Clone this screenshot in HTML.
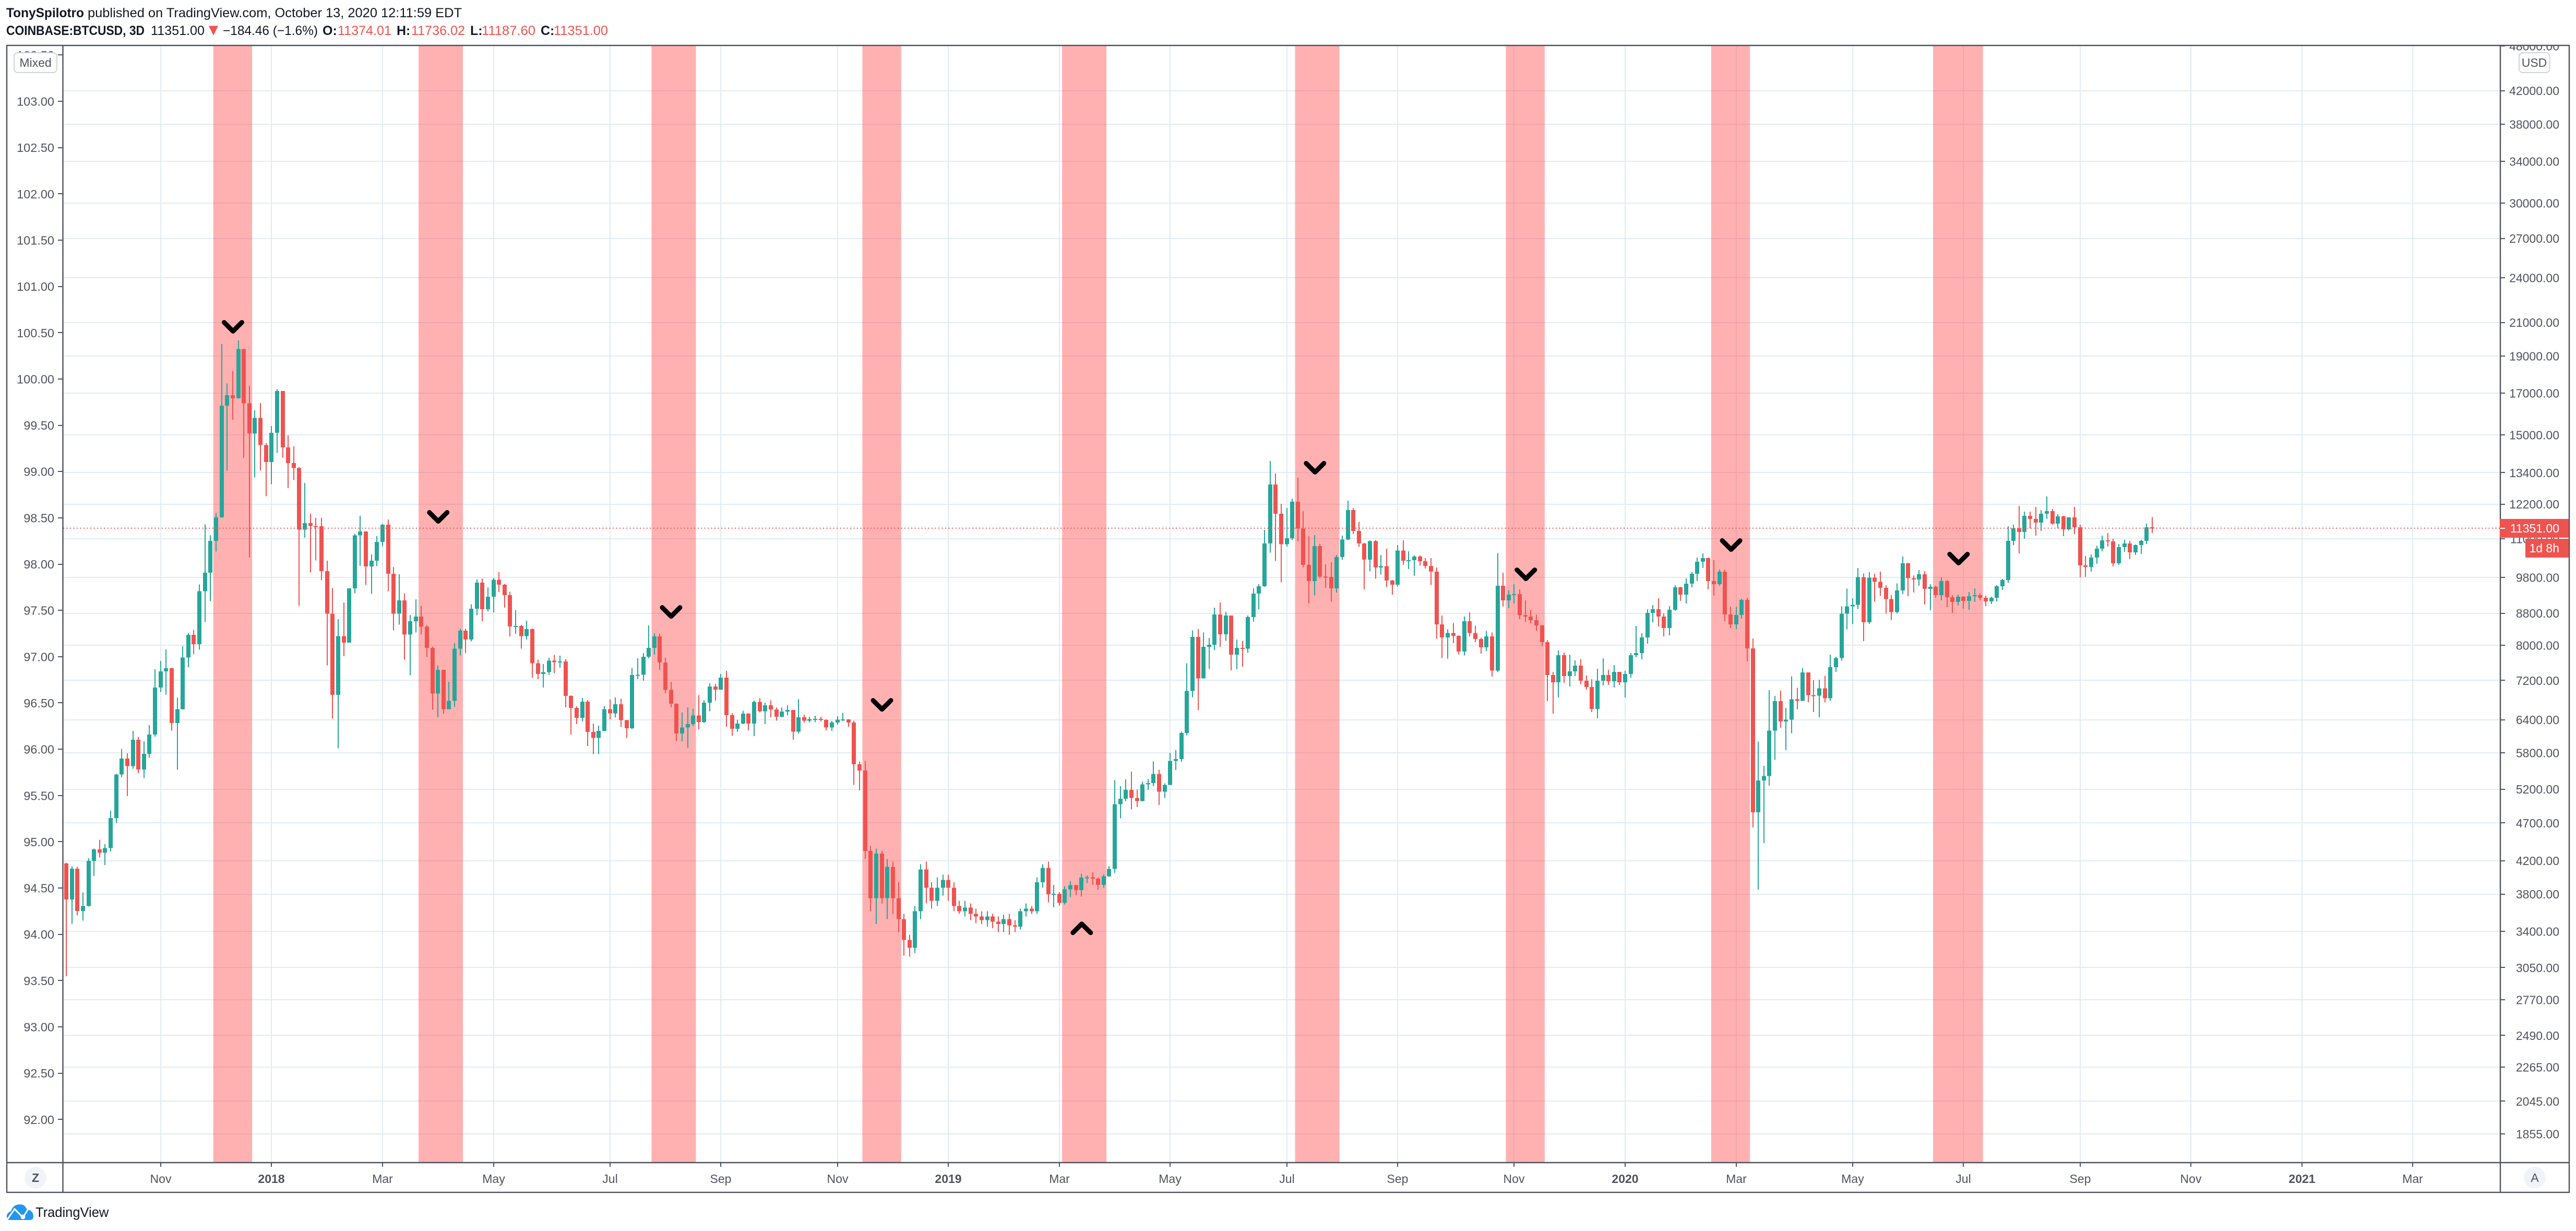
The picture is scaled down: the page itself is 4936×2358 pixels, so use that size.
<!DOCTYPE html>
<html lang="en">
<head>
<meta charset="utf-8">
<title>COINBASE:BTCUSD 3D chart</title>
<style>
html,body{margin:0;padding:0;background:#fff;width:4936px;height:2358px;overflow:hidden}
svg{display:block}
text{font-family:"Liberation Sans",sans-serif}
</style>
</head>
<body>
<svg id="chart" xmlns="http://www.w3.org/2000/svg" width="4936" height="2358" viewBox="0 0 4936 2358">
  <defs>
    <clipPath id="plot-clip"><rect x="121" y="88" width="4670" height="2139"></rect></clipPath>
    <clipPath id="left-clip"><rect x="14" y="88" width="107" height="2139"></rect></clipPath>
    <clipPath id="right-clip"><rect x="4791" y="88" width="132" height="2139"></rect></clipPath>
  </defs>
  <rect x="0" y="0" width="4936" height="2358" fill="#ffffff"></rect>

  <g font-size="25" fill="#131722">
    <text x="12" y="33" font-weight="700" textLength="149" lengthAdjust="spacingAndGlyphs">TonySpilotro</text>
    <text x="168" y="33" textLength="717" lengthAdjust="spacingAndGlyphs">published on TradingView.com, October 13, 2020 12:11:59 EDT</text>
  </g>
  <g font-size="25" fill="#131722">
    <text x="12" y="67" font-weight="700" textLength="265" lengthAdjust="spacingAndGlyphs">COINBASE:BTCUSD, 3D</text>
    <text x="289" y="67" textLength="103" lengthAdjust="spacingAndGlyphs">11351.00</text>
    <polygon points="400,49.5 418,49.5 409,68" fill="#ef5350"></polygon>
    <text x="427" y="67" textLength="182" lengthAdjust="spacingAndGlyphs">−184.46 (−1.6%)</text>
    <text x="618" y="67" font-weight="700">O:</text>
    <text x="647" y="67" fill="#ef5350" textLength="103" lengthAdjust="spacingAndGlyphs">11374.01</text>
    <text x="760" y="67" font-weight="700">H:</text>
    <text x="788" y="67" fill="#ef5350" textLength="103" lengthAdjust="spacingAndGlyphs">11736.02</text>
    <text x="901" y="67" font-weight="700">L:</text>
    <text x="923" y="67" fill="#ef5350" textLength="103" lengthAdjust="spacingAndGlyphs">11187.60</text>
    <text x="1036" y="67" font-weight="700">C:</text>
    <text x="1061" y="67" fill="#ef5350" textLength="104" lengthAdjust="spacingAndGlyphs">11351.00</text>
  </g>

  <g id="grid" clip-path="url(#plot-clip)"></g>
  <g id="bands" clip-path="url(#plot-clip)"></g>
  <g id="candles" clip-path="url(#plot-clip)"></g>
  <g id="last-line" clip-path="url(#plot-clip)"></g>
  <g id="markers" clip-path="url(#plot-clip)"></g>
  <g id="left-axis" clip-path="url(#left-clip)"></g>
  <g id="right-axis" clip-path="url(#right-clip)"></g>
  <g id="time-axis"></g>

  <g stroke="#50535e" stroke-width="2.4" fill="none">
    <rect x="13" y="87" width="4910" height="2197"></rect>
    <line x1="120.5" y1="87" x2="120.5" y2="2284"></line>
    <line x1="4791" y1="87" x2="4791" y2="2284"></line>
    <line x1="13" y1="2227" x2="4923" y2="2227"></line>
  </g>

  <g>
    <rect x="27" y="101" width="82" height="38" rx="7" fill="#ffffff" stroke="#d1d4dc" stroke-width="2"></rect>
    <text x="68" y="128" font-size="23" fill="#50535e" text-anchor="middle">Mixed</text>
  </g>
  <g>
    <rect x="4827" y="101" width="58.500" height="38" rx="7" fill="#ffffff" stroke="#d1d4dc" stroke-width="2"></rect>
    <text x="4856" y="128" font-size="23" fill="#50535e" text-anchor="middle">USD</text>
  </g>

  <g id="price-tags"></g>

  <g>
    <circle cx="68" cy="2256" r="21" fill="#f0f3fa"></circle>
    <text x="68" y="2264" font-size="23" font-weight="700" fill="#50535e" text-anchor="middle">Z</text>
  </g>
  <g>
    <circle cx="4857" cy="2256" r="21" fill="#f0f3fa"></circle>
    <text x="4857" y="2264" font-size="23" fill="#50535e" text-anchor="middle">A</text>
  </g>

  <g>
    <path d="M18 2337 Q13 2337 13 2330 Q13 2323 21 2320 Q25 2307 38 2307 Q48 2307 51 2316 Q64 2319 64 2330 Q64 2337 57 2337 Z" fill="#2196f3"></path>
    <polyline points="14,2336 28,2316 44,2332 54,2316" fill="none" stroke="#ffffff" stroke-width="3"></polyline>
    <circle cx="44" cy="2331" r="4.500" fill="#ffffff"></circle>
    <text x="68" y="2331" font-size="25.500" fill="#131722">TradingView</text>
  </g>
</svg>

<script>
// ---- candle data (USD), one value per 3-day bar ----
const firstOpen = 4165;
const closes = [
3740,4099,3614,3667,4198,4342,4300,4362,4770,5435,5697,5572,6029,5514,5779,6122,7049,7394,7464,6339,6607,7712,
8251,8025,9397,9935,10925,11727,16381,16891,16738,19392,
16487,15060,15790,14555,13830,15100,17104,14450,13795,13584,
11304,11528,11430,11421,9979,8787,6897,8221,8062,9482,
11113,11241,10124,10298,10896,11467,9907,8787,9148,8259,
8591,8715,8454,7933,6922,7431,6607,6774,7918,8355,
8135,8922,9645,8906,9246,9725,9584,9288,8461,8476,
8221,8393,7578,7338,7378,7640,7604,7618,6872,6630,
6437,6756,6172,6062,6193,6607,6525,6703,6390,6237,
7317,7324,7725,7936,8211,7596,6996,6717,6145,6255,
6316,6484,6358,6733,7067,7004,7259,6488,6230,6327,
6516,6327,6753,6566,6682,6602,6457,6559,6589,6178,
6446,6383,6414,6418,6395,6255,6346,6403,6406,6346,
5604,5497,4322,3754,4288,3754,4123,3754,3527,3313,
3237,3611,4091,3873,3725,3873,3965,3873,3668,3611,
3650,3583,3555,3516,3555,3500,3473,3527,3462,3446,
3611,3639,3611,3935,4110,
3799,3804,3700,3855,3902,3844,3991,3996,3980,3905,
4008,4095,4971,5052,5189,5066,5020,5277,5294,5444,
5163,5268,5660,5689,6151,6978,8197,7241,7961,8011,
8767,8265,8739,7774,7936,7918,8699,9331,9540,10847,
12935,11849,10822,11011,12283,11340,10170,9693,10761,9818,
9810,9480,10416,10973,11981,11261,10847,10333,10921,10089,
10128,9702,9586,10621,10299,10315,10432,10283,10136,9968,
8512,8187,8299,8225,7848,8595,8299,8148,7948,8212,
7416,9556,9147,9306,9321,8752,8712,8622,8484,8071,
7319,7157,7763,7292,7396,7524,7191,7057,6609,7191,
7315,7180,7384,7157,7339,7763,7812,8185,8807,8906,
8714,8419,8893,9510,9303,9614,9903,10265,10380,9690,
9599,9968,8768,8511,8754,9161,7922,4853,5338,5407,
6198,6766,6367,6400,6804,6770,7373,6887,6877,7032,
6826,7488,7698,8793,8986,9026,9806,8568,9793,9669,
9497,9183,8832,9423,10220,9778,9736,9888,9466,9525,
9289,9690,9232,9104,9246,9132,9260,9289,9218,9118,
9218,9540,9722,10927,11346,11221,11780,11670,11542,11853,
11944,11507,11761,11311,11724,11382,10155,10107,10396,10677,
10943,10910,10218,10727,10843,10558,10793,10927,11382,11351
];
const highs = [
4175,4128,4122,3818,4228,4355,4471,4411,4874,5444,5868,5788,6189,6083,6000,6299,7441,7633,7898,7475,6838,7981,
8289,8377,9592,11476,11113,11884,19686,17492,18163,19901,
19392,17378,16150,16503,14635,15413,17197,17104,14977,14503,
13633,13000,11853,11706,11706,10299,9491,8646,9091,9482,
11163,11780,11241,10494,11084,11487,11653,10105,9888,9345,
8754,9173,9001,8500,7967,7524,7431,7168,8047,8401,
8401,9042,9734,9766,9508,9785,9952,9610,9389,8884,
8500,8607,8409,7660,7559,7701,7770,7749,7674,6885,
6660,6830,6786,6328,6289,6666,6798,6841,6816,6396,
7475,7689,7810,8484,8290,8275,7712,7170,6724,6546,
6640,6617,6891,6785,7136,7123,7339,7409,6527,6395,
6573,6527,6777,6830,6733,6785,6640,6640,6682,6589,
6805,6497,6457,6476,6457,6414,6376,6465,6535,6414,
6383,5644,5661,4389,4355,4322,4221,4188,3935,3583,
3366,3668,4156,4188,3935,3996,4027,4027,3935,3725,
3725,3696,3639,3611,3611,3583,3555,3572,3583,3516,
3639,3696,3668,3996,4156,
4188,3907,3820,3891,3948,3907,4040,4016,4059,3996,
4034,4130,5343,5246,5355,5482,5195,5318,5362,5652,
5513,5291,5796,5850,6177,7581,8359,8394,8312,8174,
8951,9088,8838,8739,8135,8102,8739,9480,9600,11297,
13874,13366,12212,12058,12400,13205,11943,11084,11118,10838,
10185,10250,10481,11101,12320,12045,11569,10863,10943,10956,
10481,10677,9718,10795,10943,10591,10464,10464,10382,10382,
10089,8739,8385,8544,8240,8712,8824,8471,8180,8351,
8312,10538,9936,9432,9600,9449,9147,8883,8760,8500,
8122,7384,7873,7824,7775,7642,7666,7304,7224,7453,
7690,7431,7536,7384,7407,7812,8471,8289,8906,9018,
9203,8794,8990,9569,9525,9766,9951,10396,10526,10396,
10314,10030,10030,8976,8976,9189,9218,8160,5998,5574,
6991,6872,6981,6630,7290,7043,7466,7373,7203,7214,
7300,7774,7727,8986,9475,9205,10076,9910,9948,9904,
9964,9567,9300,9626,10429,10236,9858,10014,9982,9600,
9555,9797,9722,9289,9303,9260,9375,9480,9345,9275,
9246,9569,9751,11418,11471,12133,11926,11926,12094,11981,
12480,12020,11835,11780,11724,12094,11471,10445,10494,10766,
11101,11187,10998,10827,10960,10927,10810,10960,11507,11736
];
const lows = [
2973,3476,3566,3509,3661,4011,4239,4145,4317,4698,5392,5095,5528,5457,5375,5711,6087,6954,6898,6194,5510,6602,
7490,7785,7890,8576,9124,10588,11717,13486,15693,16725,
14004,10392,13212,13486,12486,12943,14220,14004,12792,13104,
9001,11034,9943,10307,9715,7531,6420,5874,7742,8062,
9338,10141,9575,9329,10133,10750,9397,8363,8506,7660,
7311,8311,8267,7723,6595,6449,6513,6607,6653,7757,
7812,8091,8746,8592,8849,8826,9381,8946,8215,8275,
7918,8135,7258,7226,7047,7325,7357,7477,6640,6122,
6317,6373,5918,5775,5775,6182,6407,6443,6265,6062,
6225,7225,7191,7692,7776,7432,6925,6644,6007,5999,
5886,6278,6218,6339,6566,6777,7000,6267,6102,6170,
6319,6199,6094,6546,6319,6446,6383,6446,6484,6028,
6141,6346,6350,6354,6365,6199,6189,6309,6376,6267,
5269,5182,4221,3611,3473,3696,3527,3583,3392,3162,
3152,3186,3527,3696,3639,3668,3784,3725,3611,3583,
3555,3516,3483,3473,3446,3430,3392,3392,3366,3392,
3419,3555,3583,3583,3873,
3707,3651,3669,3685,3766,3788,3772,3928,3907,3849,
3873,4002,4050,4768,5020,4894,4933,5014,5189,5246,
4958,5067,5261,5505,5645,6108,6848,6589,7241,7454,
7880,7961,8102,7422,7441,7500,7818,8588,8910,9525,
10548,10290,9656,10745,10956,10913,10089,9067,9285,9771,
9496,9110,9367,10325,10956,11152,10737,9449,9976,9756,
9880,9518,9306,9530,10170,10048,9841,10144,10064,9578,
8154,7700,7688,8046,7780,7755,8212,8071,7800,7862,
7283,7382,8974,8938,9060,8644,8582,8541,8351,7974,
6769,6520,6842,7146,7072,7292,7113,7002,6547,6426,
7090,7101,7046,7101,6839,7258,7714,7666,8035,8565,
8458,8211,8236,8865,9132,9060,9510,9690,10076,9451,
9275,9555,8592,8419,8393,8660,7618,4638,3850,4424,
5255,5675,6249,5842,6148,6600,6770,6745,6550,6449,
6740,6770,7385,7635,8389,8522,8914,8100,8527,9110,
9272,8787,8625,8799,9320,9259,9360,9555,9032,8879,
9218,9147,8962,8810,9004,8921,8893,9104,9147,8990,
9046,9118,9436,9645,10793,10526,10998,11346,11101,11258,
11670,11471,11346,11084,11275,11152,9797,9812,9968,10202,
10591,10743,10124,10170,10575,10348,10477,10510,10827,11187
];
const lastPrice = 11351;

// ---- axis tick values and labels ----
const priceTicks = [48000,42000,38000,34000,30000,27000,24000,21000,19000,17000,15000,13400,12200,11000,9800,8800,8000,7200,6400,5800,5200,4700,4200,3800,3400,3050,2770,2490,2265,2045,1855];
const leftTicks = [103.5,103,102.5,102,101.5,101,100.5,100,99.5,99,98.5,98,97.5,97,96.5,96,95.5,95,94.5,94,93.5,93,92.5,92];
const timeTickBars = [17,37,57,77,98,118,139,159,179,199,220,240,261,281,301,322,342,363,383,403,423];
const timeLabels = ["Nov","2018","Mar","May","Jul","Sep","Nov","2019","Mar","May","Jul","Sep","Nov","2020","Mar","May","Jul","Sep","Nov","2021","Mar"];

// ---- highlighted ranges and annotations, in bar numbers and USD ----
const bandStartBars = [26.5,63.5,105.5,143.5,179.5,221.5,259.5,296.5,336.5];
const bandEndBars = [33.5,71.5,113.5,150.5,187.5,229.5,266.5,303.5,345.5];
const markerBars = [30.05,67.05,109.03,147.04,183.05,225.1,263.1,300.1,341.1];
const markerPrices = [20730,11742,8836,6692,3430,13600,9888,10792,10363];
const markerDirections = ["down","down","down","down","up","down","down","down","down"];

// ---- axis functions ----
function xOf(bar){ return 127 + 10.63 * bar; }
function yOf(price){ return 173.7 + 640.5 * Math.log(42000 / price); }
function yLeft(value){ return 194 + (103 - value) * 177.3; }

const NS = "http://www.w3.org/2000/svg";
function mk(parent, tag, attrs, text){
  const el = document.createElementNS(NS, tag);
  for (const k in attrs) el.setAttribute(k, attrs[k]);
  if (text !== undefined) el.textContent = text;
  parent.appendChild(el);
  return el;
}
const LABEL = "#50535e", GRID = "#e1ecf2", UP = "#26a69a", DOWN = "#ef5350";

// grid
const gridG = document.getElementById("grid");
priceTicks.forEach(function(p){
  const y = Math.round(yOf(p));
  const el = mk(gridG, "rect", {x:121, y:y-1, width:4670, height:2, fill:GRID});
  
  
});
timeTickBars.forEach(function(b){
  const x = Math.round(xOf(b));
  const el = mk(gridG, "rect", {x:x-1, y:88, width:2, height:2139, fill:GRID});
  
  
});

// highlight bands
const bandG = document.getElementById("bands");
bandStartBars.forEach(function(s, i){
  const x0 = xOf(s), x1 = xOf(bandEndBars[i]);
  const el = mk(bandG, "rect", {x:x0, y:88, width:x1-x0, height:2139, fill:"#ff5252", "fill-opacity":0.45});
  
  
});

// candles
const candleG = document.getElementById("candles");
closes.forEach(function(c, i){
  const o = i === 0 ? firstOpen : closes[i-1];
  const color = c >= o ? UP : DOWN;
  const x = Math.round(xOf(i));
  const yH = yOf(highs[i]), yL = yOf(lows[i]);
  const yT = yOf(Math.max(o, c)), yB = yOf(Math.min(o, c));
  const g = mk(candleG, "g", {});
  
  
  const wick = mk(g, "rect", {x:x-1, y:yH, width:2, height:Math.max(1, yL-yH), fill:color, "shape-rendering":"crispEdges"});
  
  
  const body = mk(g, "rect", {x:x-4, y:yT, width:8, height:Math.max(2, yB-yT), fill:color, "shape-rendering":"crispEdges"});
  
  
});

// last price dotted line
const lastY = yOf(lastPrice);
const lastG = document.getElementById("last-line");
const lastLine = mk(lastG, "line", {x1:121, y1:lastY, x2:4791, y2:lastY, stroke:DOWN, "stroke-width":2, "stroke-dasharray":"2 4.5"});



// chevrons
const markerG = document.getElementById("markers");
markerBars.forEach(function(b, i){
  const x = xOf(b), y = yOf(markerPrices[i]);
  const d = markerDirections[i] === "down" ? 1 : -1;
  const pts = (x-17)+","+(y-8.5*d)+" "+x+","+(y+8.5*d)+" "+(x+17)+","+(y-8.5*d);
  const el = mk(markerG, "polyline", {points:pts, fill:"none", stroke:"#000000", "stroke-width":9, "stroke-linecap":"round", "stroke-linejoin":"round"});
  
  
});

// left axis
const leftG = document.getElementById("left-axis");
leftTicks.forEach(function(v){
  const y = yLeft(v);
  const t = mk(leftG, "rect", {x:111, y:Math.round(y)-1, width:10, height:2, fill:LABEL});
  
  
  const l = mk(leftG, "text", {x:104, y:y+8.5, "font-size":23.5, fill:LABEL, "text-anchor":"end"}, v.toFixed(2));
  
  
});

// right axis
const rightG = document.getElementById("right-axis");
priceTicks.forEach(function(p){
  const y = yOf(p);
  const t = mk(rightG, "rect", {x:4791, y:Math.round(y)-1, width:9, height:2, fill:LABEL});
  
  
  const l = mk(rightG, "text", {x:4904, y:y+8.5, "font-size":23, fill:LABEL, "text-anchor":"end"}, p.toFixed(2));
  
  
});

// time axis
const timeG = document.getElementById("time-axis");
timeTickBars.forEach(function(b, i){
  const x = Math.round(xOf(b));
  const t = mk(timeG, "rect", {x:x-1, y:2227, width:2, height:8, fill:LABEL});
  
  
  const isYear = /^\d+$/.test(timeLabels[i]);
  const l = mk(timeG, "text", {x:x, y:2266, "font-size":23, fill:LABEL, "text-anchor":"middle", "font-weight":isYear?700:400}, timeLabels[i]);
  
  
});

// price tags
const tagG = document.getElementById("price-tags");
const tagBox = mk(tagG, "rect", {x:4790, y:994, width:132, height:36, fill:DOWN});


const tagTick = mk(tagG, "rect", {x:4791, y:Math.round(lastY)-1, width:9, height:2, fill:"#ffffff"});


const tagText = mk(tagG, "text", {x:4904, y:lastY+8.5, "font-size":23, fill:"#ffffff", "text-anchor":"end"}, lastPrice.toFixed(2));


const cdBox = mk(tagG, "rect", {x:4839, y:1032, width:83, height:36, fill:DOWN});


const cdText = mk(tagG, "text", {x:4904, y:1058, "font-size":23, fill:"#ffffff", "text-anchor":"end"}, "1d 8h");


</script>
</body>
</html>
